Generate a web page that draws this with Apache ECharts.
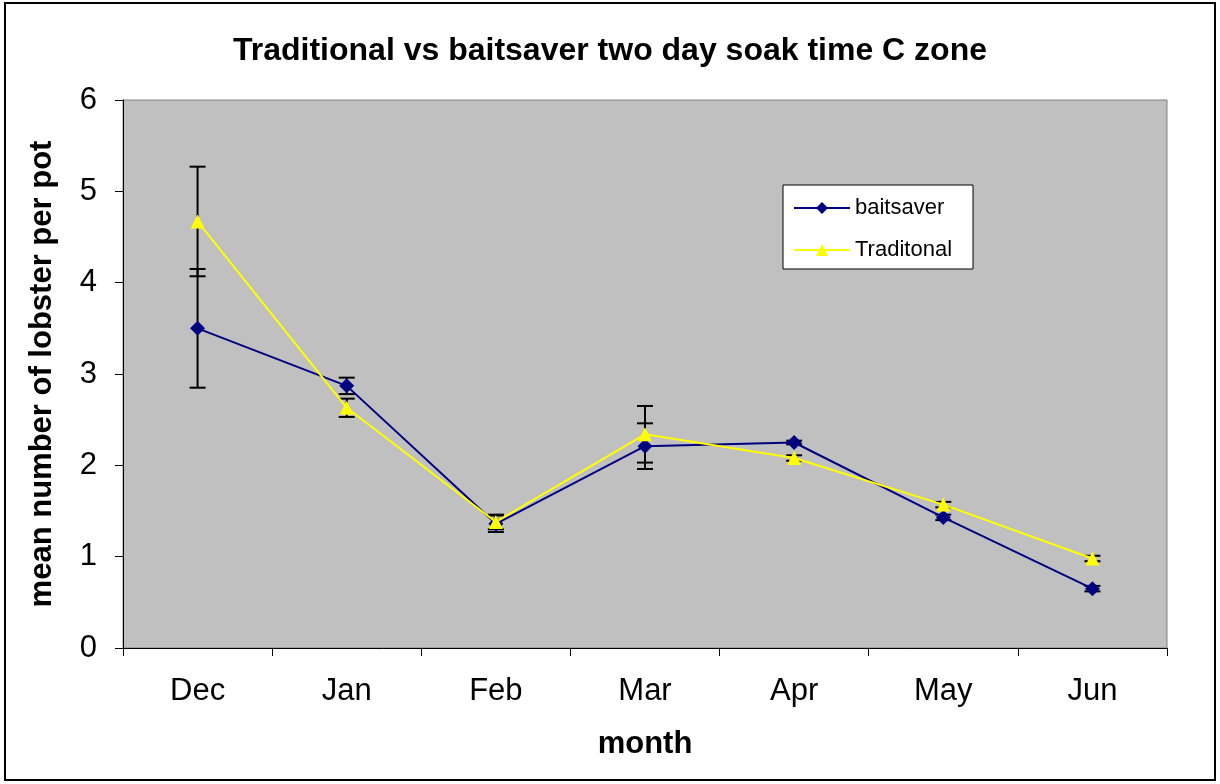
<html>
<head>
    <meta charset="utf-8">
    <script src="https://cdn.jsdelivr.net/npm/echarts@6/dist/echarts.min.js"></script>
    <style>
        html, body { margin: 0; padding: 0; background: #fff; }
        #main { width: 1220px; height: 784px; }
    </style>
</head>
<body>
<div id="main"></div>
<script>
    // data
    var months = ['Dec', 'Jan', 'Feb', 'Mar', 'Apr', 'May', 'Jun'];
    var baitsaver = [3.5, 2.87, 1.36, 2.21, 2.25, 1.43, 0.65];
    var traditional = [4.67, 2.63, 1.38, 2.34, 2.08, 1.57, 0.98];
    var baitsaverErr = [0.65, 0.09, 0.09, 0.25, 0.02, 0.03, 0.03];
    var traditionalErr = [0.6, 0.1, 0.08, 0.31, 0.03, 0.03, 0.03];

    var font = 'Arial, "Liberation Sans", sans-serif';

    var chart = echarts.init(document.getElementById('main'));

    function errData(vals, errs) {
        return vals.map(function (v, i) {
            return [i, v - errs[i], v + errs[i]];
        });
    }

    function renderErr(params, api) {
        var lo = api.coord([api.value(0), api.value(1)]);
        var hi = api.coord([api.value(0), api.value(2)]);
        var w = 8;
        var style = {stroke: '#000', lineWidth: 2};
        return {
            type: 'group',
            children: [
                {type: 'line', shape: {x1: hi[0], y1: hi[1], x2: lo[0], y2: lo[1]}, style: style},
                {type: 'line', shape: {x1: hi[0] - w, y1: hi[1], x2: hi[0] + w, y2: hi[1]}, style: style},
                {type: 'line', shape: {x1: lo[0] - w, y1: lo[1], x2: lo[0] + w, y2: lo[1]}, style: style}
            ]
        };
    }

    var option = {
        animation: false,
        textStyle: {fontFamily: font},
        graphic: [{
            type: 'rect',
            shape: {x: 5, y: 3, width: 1210, height: 777},
            style: {fill: 'none', stroke: '#000', lineWidth: 2},
            z: -10
        }],
        title: {
            text: 'Traditional vs baitsaver two day soak time C zone',
            left: 'center',
            top: 30,
            textStyle: {fontFamily: font, fontSize: 32, fontWeight: 'bold', color: '#000'}
        },
        legend: {
            orient: 'vertical',
            left: 783,
            top: 185,
            backgroundColor: '#fff',
            borderColor: '#000',
            borderWidth: 1,
            padding: [12, 21, 8, 10],
            itemGap: 20,
            itemWidth: 56,
            itemHeight: 15,
            textStyle: {fontFamily: font, fontSize: 22, color: '#000'},
            data: ['baitsaver', 'Traditonal']
        },
        grid: {
            left: 123,
            top: 100,
            width: 1044,
            height: 548,
            show: true,
            backgroundColor: '#C0C0C0',
            borderColor: '#808080',
            borderWidth: 1
        },
        xAxis: {
            type: 'category',
            data: months,
            boundaryGap: true,
            name: 'month',
            nameLocation: 'middle',
            nameGap: 81,
            nameTextStyle: {fontFamily: font, fontSize: 31, fontWeight: 'bold', color: '#000'},
            axisLine: {show: true, lineStyle: {color: '#000', width: 1}},
            axisTick: {show: true, length: 8, alignWithLabel: false, lineStyle: {color: '#000'}},
            axisLabel: {fontFamily: font, fontSize: 31, color: '#000', margin: 28},
            splitLine: {show: false}
        },
        yAxis: {
            type: 'value',
            min: 0,
            max: 6,
            interval: 1,
            name: 'mean number of lobster per pot',
            nameLocation: 'middle',
            nameGap: 65,
            nameTextStyle: {fontFamily: font, fontSize: 31, fontWeight: 'bold', color: '#000'},
            axisLine: {show: true, lineStyle: {color: '#000', width: 1}},
            axisTick: {show: true, length: 8, lineStyle: {color: '#000'}},
            axisLabel: {fontFamily: font, fontSize: 31, color: '#000', margin: 26},
            splitLine: {show: false}
        },
        series: [
            {
                name: 'baitsaver err',
                type: 'custom',
                renderItem: renderErr,
                data: errData(baitsaver, baitsaverErr),
                z: 1
            },
            {
                name: 'Traditonal err',
                type: 'custom',
                renderItem: renderErr,
                data: errData(traditional, traditionalErr),
                z: 1
            },
            {
                name: 'baitsaver',
                type: 'line',
                data: baitsaver,
                symbol: 'diamond',
                symbolSize: 15,
                color: '#000080',
                lineStyle: {color: '#000080', width: 2},
                itemStyle: {color: '#000080'},
                z: 3
            },
            {
                name: 'Traditonal',
                type: 'line',
                data: traditional,
                symbol: 'triangle',
                symbolSize: 14,
                color: '#FFFF00',
                lineStyle: {color: '#FFFF00', width: 2},
                itemStyle: {color: '#FFFF00'},
                z: 4
            }
        ]
    };

    chart.setOption(option);
</script>
</body>
</html>
